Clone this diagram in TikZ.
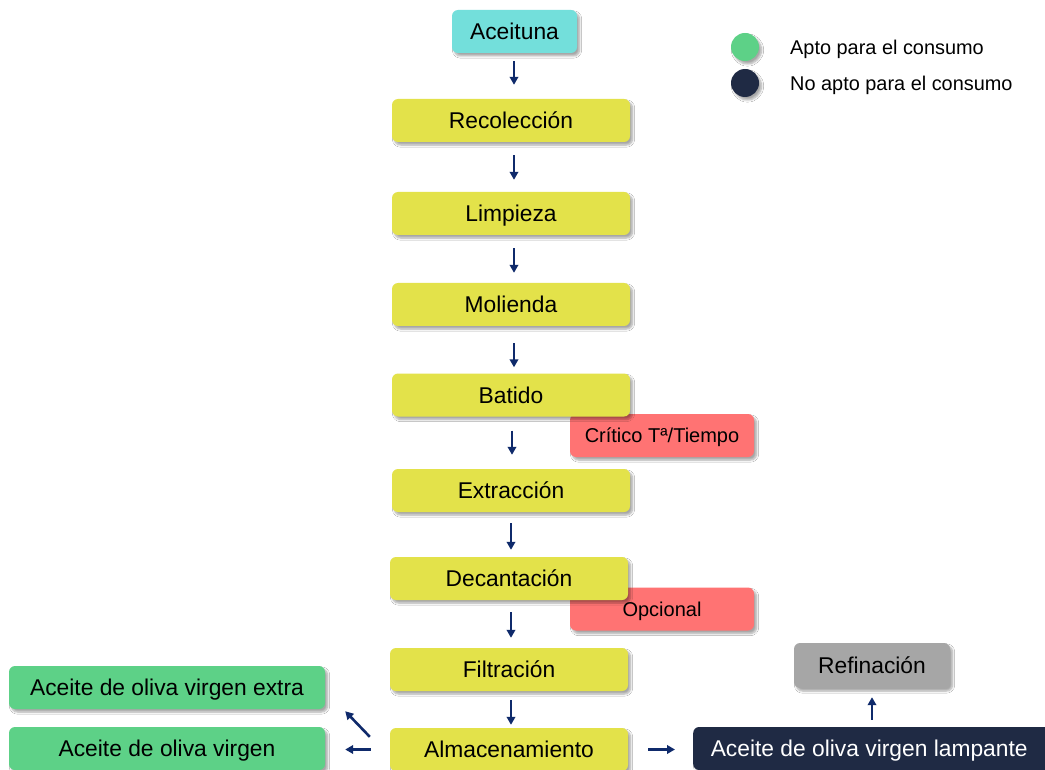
\documentclass[tikz,border=0pt]{standalone}
\usepackage{fontspec}
\setmainfont{Liberation Sans}
\usetikzlibrary{shadows.blur,arrows.meta}

\definecolor{cyanbox}{HTML}{73DFDB}
\definecolor{yellowbox}{HTML}{E3E24A}
\definecolor{redbox}{HTML}{FF7373}
\definecolor{greenbox}{HTML}{5DD187}
\definecolor{darkbox}{HTML}{1F2A44}
\definecolor{graybox}{HTML}{A6A6A6}
\definecolor{arrowblue}{HTML}{0F2A6B}

\tikzset{
  softshadow/.style={blur shadow={shadow xshift=2.5pt, shadow yshift=-3pt,
      shadow blur steps=6, shadow opacity=35}},
  box/.style={rounded corners=6pt, inner sep=0pt, minimum height=43pt,
      align=center, softshadow, font=\fontsize{22.8}{26}\selectfont,
      text height=18.5pt, text depth=2.5pt},
  stepbox/.style={box, fill=yellowbox, minimum width=238pt},
  notebox/.style={box, fill=redbox, minimum width=184pt,
      font=\fontsize{20}{24}\selectfont, text height=16.5pt, text depth=2pt},
  outbox/.style={box, fill=greenbox, minimum width=316pt},
  flow/.style={draw=arrowblue, line width=2.6pt,
      -{Triangle[length=8pt,width=8.5pt]}},
  legdot/.style={circle, minimum size=28pt, inner sep=0pt, softshadow},
  legtext/.style={anchor=west, inner sep=0pt, font=\fontsize{19.9}{24}\selectfont}
}

\begin{document}
\begin{tikzpicture}[x=1pt, y=-1pt]
  \useasboundingbox (0,0) rectangle (1045,770);
  \fill[white] (0,0) rectangle (1045,770);

  % remarks on individual steps (drawn first, partly covered by the steps)
  \node[notebox] (critico) at (662,435.5) {Crítico Tª/Tiempo};
  \node[notebox] (opcional) at (662,609) {Opcional};

  % process steps
  \node[box, fill=cyanbox, minimum width=125pt] (aceituna) at (514.5,31.5) {Aceituna};
  \node[stepbox] (recoleccion) at (511,120.5) {Recolección};
  \node[stepbox] (limpieza) at (511,213.5) {Limpieza};
  \node[stepbox] (molienda) at (511,304.5) {Molienda};
  \node[stepbox] (batido) at (511,395) {Batido};
  \node[stepbox] (extraccion) at (511,490.5) {Extracción};
  \node[stepbox] (decantacion) at (509,578.5) {Decantación};
  \node[stepbox] (filtracion) at (509,669.5) {Filtración};
  \node[stepbox] (almacenamiento) at (509,749.5) {Almacenamiento};

  % resulting oils
  \node[outbox] (extra) at (167,687.5) {Aceite de oliva virgen extra};
  \node[outbox] (virgen) at (167,748.5) {Aceite de oliva virgen};
  \node[box, fill=darkbox, text=white, minimum width=360pt, anchor=west]
       (lampante) at (693,748.5) {\hspace*{-8pt}Aceite de oliva virgen lampante};
  \node[box, fill=graybox, minimum width=156pt, minimum height=45pt]
       (refinacion) at (872,665.5) {Refinación};

  % legend
  \node[legdot, fill=greenbox] (dotapto) at (745,47) {};
  \node[legdot, fill=darkbox] (dotnoapto) at (745,83) {};
  \node[legtext] (apto) at (790,49) {Apto para el consumo};
  \node[legtext] (noapto) at (790,85) {No apto para el consumo};

  % connectors
  \draw[flow, shorten <=8pt, shorten >=14pt] (aceituna.south -| 514,0) -- (recoleccion.north -| 514,0);
  \draw[flow, shorten <=13pt, shorten >=12pt] (recoleccion.south -| 514,0) -- (limpieza.north -| 514,0);
  \draw[flow, shorten <=13pt, shorten >=10pt] (limpieza.south -| 514,0) -- (molienda.north -| 514,0);
  \draw[flow, shorten <=17pt, shorten >=6pt] (molienda.south -| 514,0) -- (batido.north -| 514,0);
  \draw[flow, shorten <=14pt, shorten >=14pt] (batido.south -| 512,0) -- (extraccion.north -| 512,0);
  \draw[flow, shorten <=11pt, shorten >=7pt] (extraccion.south -| 511,0) -- (decantacion.north -| 511,0);
  \draw[flow, shorten <=12pt, shorten >=10pt] (decantacion.south -| 511,0) -- (filtracion.north -| 511,0);
  \draw[flow, shorten <=9pt, shorten >=3pt] (filtracion.south -| 511,0) -- (almacenamiento.north -| 511,0);

  \draw[flow, shorten <=19pt, shorten >=20pt] (almacenamiento.west) -- (virgen.east |- almacenamiento.west);
  \draw[flow] ([xshift=-20pt,yshift=-9pt]almacenamiento.north west) -- ([xshift=20pt,yshift=-2pt]extra.south east);
  \draw[flow, shorten <=20pt, shorten >=18pt] (almacenamiento.east) -- (lampante.west |- almacenamiento.east);
  \draw[flow, shorten <=7pt, shorten >=9pt] (lampante.north -| refinacion.south) -- (refinacion.south);
\end{tikzpicture}
\end{document}
